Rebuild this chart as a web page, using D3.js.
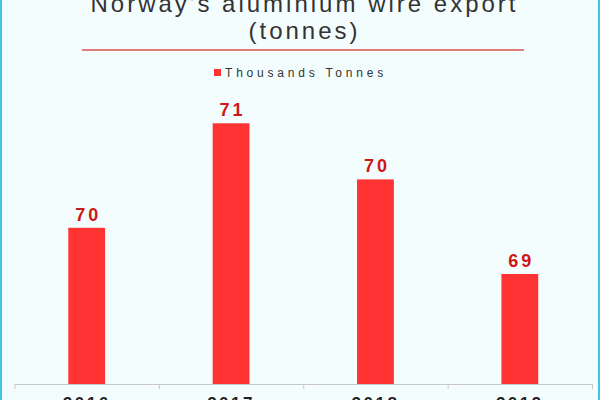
<!DOCTYPE html>
<html>
<head>
<meta charset="utf-8">
<script src="https://cdn.jsdelivr.net/npm/d3@7"></script>
<style>
  html, body { margin: 0; padding: 0; background: #f4fdfe; }
  svg { display: block; font-family: "Liberation Sans", Arial, sans-serif; }
</style>
</head>
<body>
<svg id="chart" width="600" height="400"></svg>
<script>
// data (values in thousand tonnes)
let years = ["2016", "2017", "2018", "2019"];
let tonnes = [69.9, 70.85, 70.34, 69.48];
let seriesName = "Thousands Tonnes";
let titleLines = ["Norway's aluminium wire export", "(tonnes)"];

let svg = d3.select("#chart");
let W = 600, H = 400;

// background + cyan side borders
svg.append("rect").attr("width", W).attr("height", H).attr("fill", "#f4fdfe");
svg.append("rect").attr("x", 0).attr("width", 2).attr("height", H).attr("fill", "#3fc6e4");
svg.append("rect").attr("x", W - 2).attr("width", 2).attr("height", H).attr("fill", "#3fc6e4");

let left = 14.5, right = 592, baseY = 384;

let x = d3.scaleBand()
    .domain(years)
    .range([left, right])
    .paddingInner(0.745)
    .paddingOuter(0.3725);

// y axis doesn't start at zero in the original
let y = d3.scaleLinear()
    .domain([68.48, 71.48])
    .range([baseY, 54]);

// title
let title = svg.append("text")
    .attr("text-anchor", "middle")
    .attr("fill", "#333")
    .style("font-size", "24px")
    .style("letter-spacing", "3px");
titleLines.forEach(function(t, i) {
    title.append("tspan")
        .attr("x", 303 + 1.5)
        .attr("y", 12 + i * 27)
        .text(t);
});

// red underline
svg.append("line")
    .attr("x1", 82).attr("x2", 524)
    .attr("y1", 50).attr("y2", 50)
    .attr("stroke", "#d9534f")
    .attr("stroke-width", 1.5);

// legend
svg.append("rect")
    .attr("x", 214).attr("y", 69)
    .attr("width", 7).attr("height", 7)
    .attr("fill", "#ff3333");
svg.append("text")
    .attr("x", 225).attr("y", 77)
    .attr("fill", "#333")
    .style("font-size", "12px")
    .style("letter-spacing", "3.8px")
    .text(seriesName);

// axis with ticks on category boundaries
let edges = d3.scaleLinear().domain([0, years.length]).range([left, right]);
let tickAxis = svg.append("g")
    .attr("transform", "translate(0," + baseY + ")")
    .call(d3.axisBottom(edges).tickValues(d3.range(years.length + 1)).tickFormat("").tickSize(5).tickSizeOuter(0));
tickAxis.selectAll("path, line").attr("stroke", "#c8c8c8");

// bars
svg.selectAll(".bar")
    .data(tonnes)
    .enter()
    .append("rect")
    .attr("class", "bar")
    .attr("x", (d, i) => x(years[i]))
    .attr("y", d => y(d))
    .attr("width", x.bandwidth())
    .attr("height", d => baseY - y(d))
    .attr("fill", "#ff3333");

// value labels
svg.selectAll(".val")
    .data(tonnes)
    .enter()
    .append("text")
    .attr("class", "val")
    .attr("x", (d, i) => x(years[i]) + x.bandwidth() / 2 + 1.5)
    .attr("y", d => y(d) - 7)
    .attr("text-anchor", "middle")
    .attr("fill", "#cc1818")
    .style("font-size", "18px")
    .style("font-weight", "bold")
    .style("letter-spacing", "3px")
    .text(d => Math.round(d));

// year labels (cut off at the bottom edge, like the original)
let labelAxis = svg.append("g")
    .attr("transform", "translate(0," + baseY + ")")
    .call(d3.axisBottom(x).tickSize(0).tickPadding(13));
labelAxis.select(".domain").remove();
labelAxis.selectAll("text")
    .attr("fill", "#222")
    .attr("dx", "0px")
    .style("font-family", "'Liberation Sans', Arial, sans-serif")
    .style("font-size", "17px")
    .style("font-weight", "bold")
    .style("letter-spacing", "2.5px");
</script>
</body>
</html>
